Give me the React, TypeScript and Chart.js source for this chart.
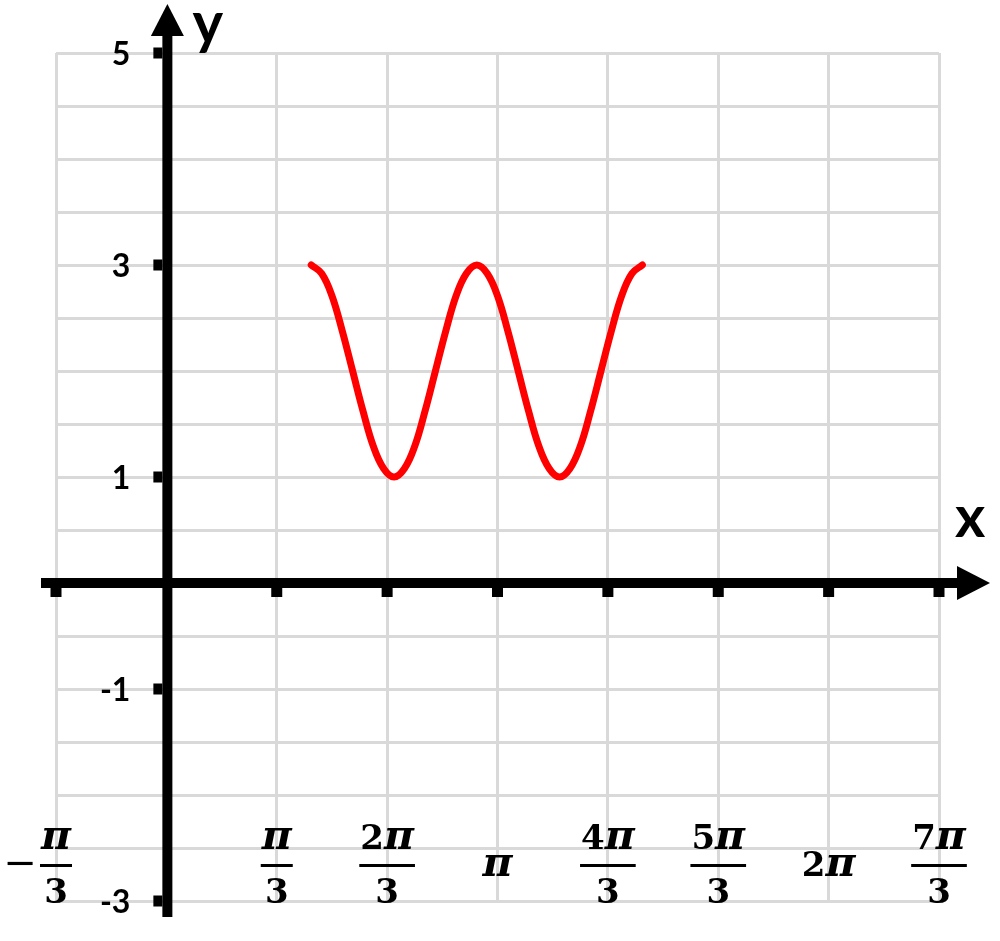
import { useEffect, useRef } from "react"
import { Chart, registerables } from "chart.js"

Chart.register(...registerables)

// curve points, x given in multiples of π
const curveX = [
  0.4375, 0.469, 0.5, 0.531, 0.5625, 0.594, 0.625, 0.656, 0.6875, 0.719, 0.75, 0.781, 0.8125, 0.844, 0.875, 0.906,
  0.9375, 0.969, 1.0, 1.031, 1.0625, 1.094, 1.125, 1.156, 1.1875, 1.219, 1.25, 1.281, 1.3125, 1.344, 1.375, 1.406,
  1.4375,
]
const curveY = [
  3, 2.92, 2.71, 2.38, 2, 1.62, 1.29, 1.08, 1, 1.08, 1.29, 1.62, 2, 2.38, 2.71, 2.92,
  3, 2.92, 2.71, 2.38, 2, 1.62, 1.29, 1.08, 1, 1.08, 1.29, 1.62, 2, 2.38, 2.71, 2.92,
  3,
]

const xTicks = [-1 / 3, 0, 1 / 3, 2 / 3, 1, 4 / 3, 5 / 3, 2, 7 / 3]
const xTickLabels = ["-π/3", "", "π/3", "2π/3", "π", "4π/3", "5π/3", "2π", "7π/3"]
const yMin = -3
const yMax = 5
const yGridStep = 0.5
const yTickValues = [5, 3, 1, -1, -3]
const yTickLabels = ["5", "3", "1", "-1", "-3"]

const DIGIT_FONT = "bold 34px 'DejaVu Serif'"
const PI_FONT = "italic bold 41px 'DejaVu Serif'"
const MINUS_FONT = "40px 'DejaVu Serif'"
const AXIS_FONT = "bold 32px Lato"
const NAME_FONT = "bold 58px Lato"

function fontFor(ch: string) {
  return ch === "π" ? PI_FONT : DIGIT_FONT
}

function measureMath(ctx: CanvasRenderingContext2D, s: string) {
  let w = 0
  for (const ch of s) {
    ctx.font = fontFor(ch)
    w += ctx.measureText(ch).width
  }
  return w
}

function drawMath(ctx: CanvasRenderingContext2D, s: string, cx: number, baseline: number) {
  let x = cx - measureMath(ctx, s) / 2
  ctx.textAlign = "left"
  ctx.textBaseline = "alphabetic"
  for (const ch of s) {
    ctx.font = fontFor(ch)
    ctx.fillText(ch, x, baseline)
    x += ctx.measureText(ch).width
  }
}

const axesPlugin = {
  id: "arrowAxes",
  afterDraw(chart: any) {
    const { ctx, scales } = chart
    const xs = scales.x
    const ys = scales.y
    const x0 = xs.getPixelForValue(0) + 1
    const y0 = ys.getPixelForValue(0)
    const left = xs.getPixelForValue(xTicks[0])
    const right = xs.getPixelForValue(xTicks[xTicks.length - 1])
    const top = ys.getPixelForValue(yMax)
    const bottom = ys.getPixelForValue(yMin)

    ctx.save()
    ctx.fillStyle = "#000"

    // x axis with arrow
    ctx.fillRect(left - 15, y0 - 5, right + 20 - (left - 15), 10)
    ctx.beginPath()
    ctx.moveTo(right + 18, y0 - 17)
    ctx.lineTo(right + 51, y0)
    ctx.lineTo(right + 18, y0 + 17)
    ctx.closePath()
    ctx.fill()

    // y axis with arrow
    ctx.fillRect(x0 - 5, top - 20, 10, bottom + 16 - (top - 20))
    ctx.beginPath()
    ctx.moveTo(x0 - 16.5, top - 17)
    ctx.lineTo(x0, top - 49)
    ctx.lineTo(x0 + 16.5, top - 17)
    ctx.closePath()
    ctx.fill()

    // tick marks
    xTicks.forEach((v) => {
      if (v === 0) return
      const px = xs.getPixelForValue(v)
      ctx.fillRect(px - 5.5, y0 + 5, 11, 9)
    })
    yTickValues.forEach((v) => {
      const py = ys.getPixelForValue(v)
      ctx.fillRect(x0 - 14, py - 5.5, 9, 11)
    })

    // y labels
    ctx.font = AXIS_FONT
    ctx.textAlign = "right"
    ctx.textBaseline = "alphabetic"
    yTickValues.forEach((v, i) => {
      const py = ys.getPixelForValue(v)
      ctx.fillText(yTickLabels[i], x0 - 37, py + 12)
    })

    // x labels as stacked fractions
    xTicks.forEach((v, i) => {
      const label = xTickLabels[i]
      if (!label) return
      const cx = xs.getPixelForValue(v)
      let text = label
      let neg = false
      if (text.startsWith("-")) {
        neg = true
        text = text.slice(1)
      }
      const [num, den] = text.split("/")
      if (den) {
        const w = Math.max(measureMath(ctx, num), measureMath(ctx, den)) + 2
        drawMath(ctx, num, cx, bottom - 52)
        ctx.fillRect(cx - w / 2, bottom - 37, w, 3)
        drawMath(ctx, den, cx, bottom + 2)
        if (neg) {
          ctx.font = MINUS_FONT
          ctx.textAlign = "right"
          ctx.fillText("−", cx - w / 2 - 3, bottom - 25)
        }
      } else {
        drawMath(ctx, num, cx, bottom - 25)
      }
    })

    // axis names
    ctx.font = NAME_FONT
    ctx.textAlign = "left"
    ctx.fillText("x", right + 16, y0 - 46)
    ctx.fillText("y", x0 + 25, top - 10)

    ctx.restore()
  },
}

export default function App() {
  const chartRef = useRef<HTMLCanvasElement>(null)
  const chartInstance = useRef<Chart | null>(null)

  useEffect(() => {
    if (!chartRef.current) return
    if (chartInstance.current) chartInstance.current.destroy()

    const points = curveX.map((x, i) => ({ x, y: curveY[i] }))

    chartInstance.current = new Chart(chartRef.current, {
      type: "scatter",
      data: {
        datasets: [
          {
            data: points,
            showLine: true,
            borderColor: "#ff0000",
            borderWidth: 7,
            borderCapStyle: "round",
            borderJoinStyle: "round",
            pointRadius: 0,
            tension: 0.4,
          },
        ],
      },
      options: {
        animation: false,
        responsive: true,
        maintainAspectRatio: false,
        layout: { padding: { left: 56, right: 61, top: 53, bottom: 40 } },
        plugins: { legend: { display: false }, tooltip: { enabled: false } },
        scales: {
          x: {
            type: "linear",
            min: xTicks[0],
            max: xTicks[xTicks.length - 1],
            afterBuildTicks: (scale: any) => {
              scale.ticks = xTicks.map((value) => ({ value }))
            },
            afterFit: (scale: any) => {
              scale.height = 0
            },
            grid: { color: "#d9d9d9", lineWidth: 3, drawTicks: false },
            border: { display: false },
            ticks: { display: false },
          },
          y: {
            type: "linear",
            min: yMin,
            max: yMax,
            afterFit: (scale: any) => {
              scale.width = 0
            },
            grid: { color: "#d9d9d9", lineWidth: 3, drawTicks: false },
            border: { display: false },
            ticks: { display: false, stepSize: yGridStep },
          },
        },
      },
      plugins: [axesPlugin],
    })

    return () => {
      if (chartInstance.current) {
        chartInstance.current.destroy()
        chartInstance.current = null
      }
    }
  }, [])

  return (
    <div style={{ position: "absolute", left: 0, top: 0, width: 1000, height: 941, background: "#fff" }}>
      <canvas ref={chartRef}></canvas>
    </div>
  )
}
